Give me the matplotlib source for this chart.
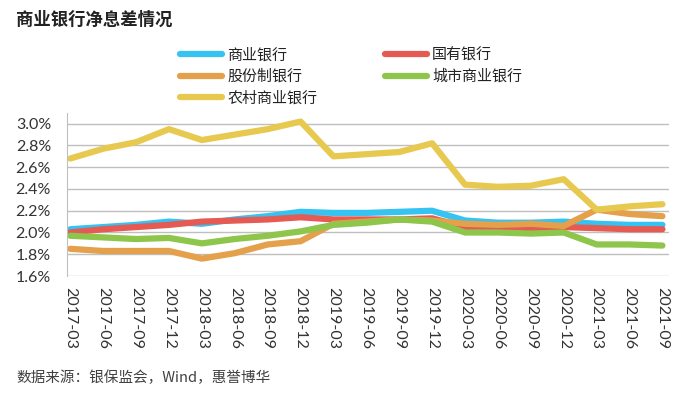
import matplotlib.pyplot as plt
import numpy as np

plt.rcParams['font.family'] = ['Lato', 'Noto Sans CJK SC', 'DejaVu Sans']

# 数据（单位：%）
quarters = ['2017-03', '2017-06', '2017-09', '2017-12', '2018-03', '2018-06', '2018-09',
            '2018-12', '2019-03', '2019-06', '2019-09', '2019-12', '2020-03', '2020-06',
            '2020-09', '2020-12', '2021-03', '2021-06', '2021-09']
commercial = [2.03, 2.05, 2.07, 2.10, 2.08, 2.12, 2.15, 2.19, 2.18, 2.18, 2.19, 2.20,
              2.11, 2.09, 2.09, 2.10, 2.08, 2.07, 2.07]
state_owned = [2.00, 2.03, 2.05, 2.07, 2.10, 2.11, 2.12, 2.14, 2.12, 2.12, 2.12, 2.13,
               2.05, 2.05, 2.04, 2.05, 2.04, 2.03, 2.03]
joint_stock = [1.85, 1.83, 1.83, 1.83, 1.76, 1.81, 1.89, 1.92, 2.08, 2.10, 2.12, 2.11,
               2.08, 2.07, 2.08, 2.06, 2.21, 2.17, 2.15]
city = [1.97, 1.955, 1.94, 1.95, 1.90, 1.94, 1.97, 2.01, 2.07, 2.09, 2.12, 2.10,
        2.00, 2.00, 1.99, 2.00, 1.89, 1.89, 1.88]
rural = [2.68, 2.77, 2.83, 2.95, 2.85, 2.90, 2.95, 3.02, 2.70, 2.72, 2.74, 2.82,
         2.44, 2.42, 2.43, 2.49, 2.21, 2.24, 2.26]

series = [
    ('商业银行', commercial, '#35C3F2'),
    ('国有银行', state_owned, '#E55A52'),
    ('股份制银行', joint_stock, '#E4A04A'),
    ('城市商业银行', city, '#8DC64B'),
    ('农村商业银行', rural, '#E8C94F'),
]

fig = plt.figure(figsize=(6.88, 3.98), dpi=100)
ax = fig.add_axes([0.0974, 0.3065, 0.875, 0.41])

x = np.arange(len(quarters))
lines = {}
for name, vals, col in series:
    ln, = ax.plot(x, vals, color=col, lw=4.5, solid_capstyle='round',
                  solid_joinstyle='round', label=name)
    lines[name] = ln

ax.set_xlim(-0.1, 18.2)
ax.set_ylim(1.6, 3.1)
ax.set_yticks(np.arange(1.6, 3.01, 0.2))
ax.set_yticklabels([f'{v:.1f}%' for v in np.arange(1.6, 3.01, 0.2)])
ax.set_xticks(x)
ax.set_xticklabels(quarters, rotation=270)
ax.tick_params(axis='both', length=0, labelsize=11.5, colors='#333333')
ax.tick_params(axis='y', pad=11.5)
ax.tick_params(axis='x', pad=8)

ax.grid(axis='y', color='#BFBFBF', lw=1)
ax.set_axisbelow(True)
for s in ['top', 'right', 'bottom']:
    ax.spines[s].set_visible(False)
ax.spines['left'].set_color('#BFBFBF')

# 图例（按列填充）
order = ['商业银行', '股份制银行', '农村商业银行', '国有银行', '城市商业银行']
leg = fig.legend([lines[n] for n in order], order, ncol=2, loc='upper left',
                 bbox_to_anchor=(180 / 688, 1 - 48 / 398), frameon=False,
                 handlelength=2.8, handletextpad=0.35,
                 labelspacing=0.48, columnspacing=4.5, borderpad=0,
                 borderaxespad=0, prop={'family': ['Noto Sans CJK SC'], 'size': 10.8})
for t in leg.get_texts():
    t.set_color('#222222')

fig.text(16 / 688, 1 - 20 / 398, '商业银行净息差情况', fontsize=12.5, fontweight='bold',
         va='center', ha='left', color='#222222', family=['Noto Sans CJK SC'])
fig.text(16 / 688, 1 - 378 / 398, '数据来源：银保监会，Wind，惠誉博华', fontsize=10.5,
         va='center', ha='left', color='#404040', family=['Noto Sans CJK SC'])

fig.savefig('out.png', dpi=100)
